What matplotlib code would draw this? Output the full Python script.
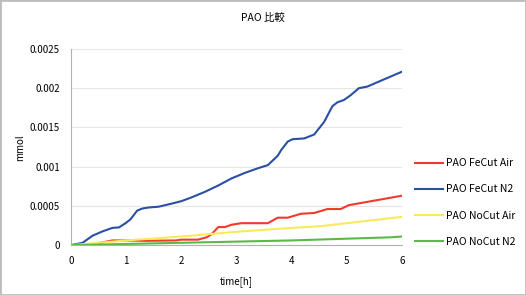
import matplotlib
matplotlib.use('Agg')
import matplotlib.pyplot as plt
from matplotlib.patches import Rectangle

plt.rcParams['font.family'] = ['Noto Sans CJK JP', 'DejaVu Sans']

# データ
t_blue = [0, 0.21, 0.39, 0.57, 0.75, 0.87, 0.99, 1.08, 1.2, 1.29, 1.41, 1.59, 1.83, 2.0, 2.19,
          2.43, 2.67, 2.91, 3.15, 3.39, 3.57, 3.75, 3.81, 3.93, 4.02, 4.23, 4.41, 4.59, 4.74,
          4.83, 4.95, 5.07, 5.22, 5.37, 6.0]
fe_n2 = [0, 0.00003, 0.00012, 0.000175, 0.00022, 0.000226, 0.00028, 0.00033, 0.00044, 0.000466,
         0.00048, 0.00049, 0.00053, 0.00056, 0.00061, 0.00068, 0.00076, 0.00085, 0.00092, 0.00098,
         0.00102, 0.00114, 0.00121, 0.00132, 0.00135, 0.00136, 0.00141, 0.00157, 0.00177,
         0.00182, 0.00185, 0.00191, 0.0020, 0.00202, 0.00221]

t_red = [0, 0.39, 0.75, 0.99, 1.35, 1.9, 2.0, 2.3, 2.46, 2.55, 2.67, 2.79, 2.91, 3.09, 3.57,
         3.75, 3.93, 4.17, 4.41, 4.65, 4.89, 5.04, 6.0]
fe_air = [0, 0.00001, 0.00006, 0.00006, 0.000055, 0.00006, 0.00007, 0.00007, 0.0001, 0.00014,
          0.00023, 0.00023, 0.00026, 0.00028, 0.00028, 0.00035, 0.00035, 0.0004, 0.00041,
          0.00046, 0.00046, 0.00051, 0.00063]

t_yel = [0, 1, 2, 3, 4, 4.5, 5, 6]
no_air = [0, 0.00006, 0.00011, 0.00017, 0.00022, 0.00024, 0.00028, 0.00036]

t_grn = [0, 2, 4, 5.8, 6]
no_n2 = [0, 0.00003, 0.00006, 0.0001, 0.00011]

yticks = [0, 0.0005, 0.001, 0.0015, 0.002, 0.0025]
ytick_labels = ['0', '0.0005', '0.001', '0.0015', '0.002', '0.0025']

fig = plt.figure(figsize=(5.26, 2.95), dpi=100)
ax = fig.add_axes([0.135, 0.169, 0.629, 0.665])

ax.plot(t_red, fe_air, color='#f03a2e', lw=1.5, label='PAO FeCut Air')
ax.plot(t_blue, fe_n2, color='#2a4fa3', lw=1.5, label='PAO FeCut N2')
ax.plot(t_yel, no_air, color='#f9ea5c', lw=1.5, label='PAO NoCut Air')
ax.plot(t_grn, no_n2, color='#5cb947', lw=1.5, label='PAO NoCut N2')

ax.set_xlim(0, 6)
ax.set_ylim(0, 0.0025)
ax.set_yticks(yticks)
ax.set_yticklabels(ytick_labels)
ax.set_xticks(range(7))
ax.tick_params(length=0, labelsize=7, pad=8)
ax.grid(axis='y', color='#e6e6e6', lw=0.8)
ax.set_axisbelow(True)
for s in ['top', 'right']:
    ax.spines[s].set_visible(False)
for s in ['left', 'bottom']:
    ax.spines[s].set_color('#b0b0b0')
    ax.spines[s].set_linewidth(0.8)

fig.text(0.5, 0.94, 'PAO 比較', ha='center', va='center', fontsize=7.5)
fig.text(0.45, 0.045, 'time[h]', ha='center', va='center', fontsize=7)
fig.text(0.038, 0.5, 'mmol', ha='center', va='center', rotation=90, fontsize=7)

fig.legend(loc='upper left', bbox_to_anchor=(0.772, 0.495), frameon=False,
           fontsize=7.5, handlelength=2.6, handletextpad=0.3, labelspacing=1.55)

fig.patches.append(Rectangle((0, 0), 1, 1, transform=fig.transFigure, fill=False,
                             edgecolor='#bdbdbd', lw=2))

fig.savefig('out.png', dpi=100)
